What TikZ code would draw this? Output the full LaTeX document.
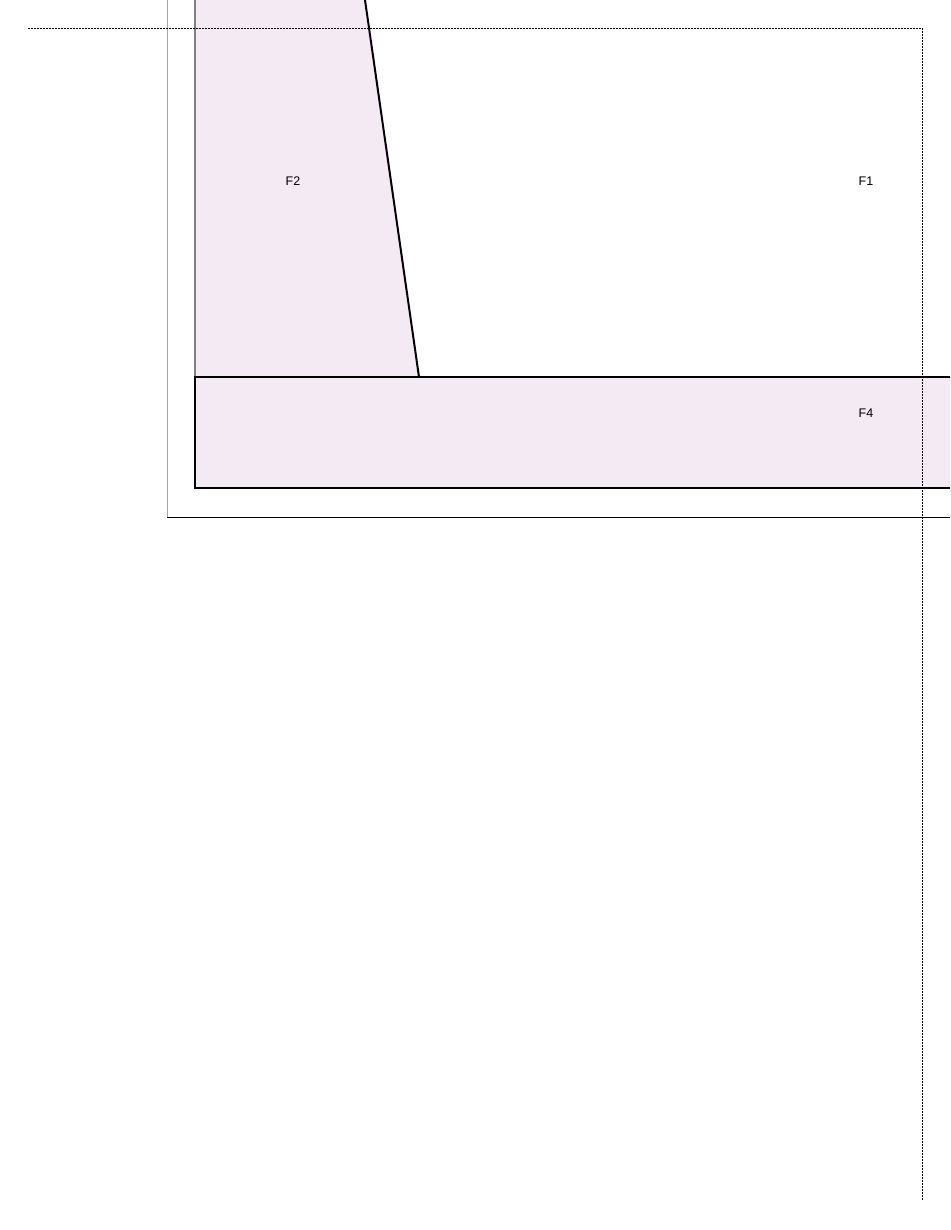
\documentclass[tikz,border=0pt]{standalone}
\usepackage{fontspec}
\setmainfont{Liberation Sans}
\definecolor{facepink}{RGB}{244,234,244}
\begin{document}
\begin{tikzpicture}[x=1pt,y=-1pt,
    face/.style={fill=facepink},
    edge/.style={line width=2pt},
    guide/.style={line width=0.9pt,dash pattern=on 2pt off 1pt},
    frame/.style={gray!70,line width=0.9pt},
    lab/.style={font=\fontsize{12.5}{14}\selectfont}]
    \useasboundingbox (0,0) rectangle (950,1230);
    \fill[face] (195,0) -- (365,0) -- (419,377) -- (195,377) -- cycle;
    \fill[face] (195,377) rectangle (950,488);
    \draw[frame] (167,0) -- (167,517);
    \draw[line width=1pt] (167,517) -- (950,517);
    \draw[gray,line width=1.4pt] (195,0) -- (195,377);
    \draw[edge] (365,0) -- (419,377);
    \draw[edge] (950,377) -- (195,377) -- (195,488) -- (950,488);
    \draw[guide] (28,28) -- (922,28) -- (922,1200);
    \node[lab] (ftwo) at (293,181) {F2};
    \node[lab] (fone) at (866,181) {F1};
    \node[lab] (ffour) at (866,413) {F4};
\end{tikzpicture}
\end{document}
